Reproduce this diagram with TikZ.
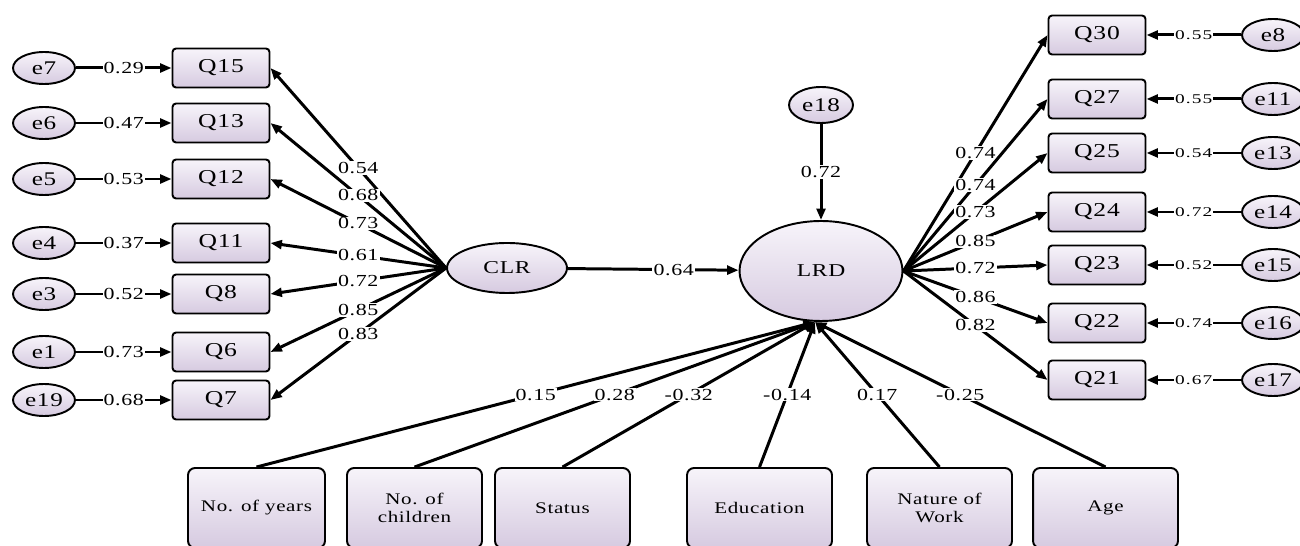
\documentclass[tikz,border=0pt]{standalone}
\usepackage{fontspec}
\setmainfont{Liberation Serif}[FakeStretch=1.3,LetterSpace=4]
\newfontfamily\smallfont{Liberation Serif}[FakeStretch=1.45,LetterSpace=8]
\usetikzlibrary{arrows.meta,shapes.geometric}
\definecolor{lavtop}{RGB}{247,244,250}
\definecolor{lavbot}{RGB}{214,202,224}
\tikzset{
  shade/.style={top color=lavtop,bottom color=lavbot,draw=black,line width=1.1pt},
  errnode/.style={shade,ellipse,minimum width=1.24cm,minimum height=0.64cm,inner sep=0pt,font=\fontsize{11}{12}\selectfont},
  obsbox/.style={shade,rectangle,rounded corners=2pt,minimum width=1.94cm,minimum height=0.78cm,inner sep=0pt,font=\fontsize{11.2}{12}\selectfont},
  covbox/.style={shade,rectangle,rounded corners=4pt,minimum height=1.6cm,inner sep=0pt,align=center,font=\fontsize{9.2}{10}\selectfont},
  latent/.style={shade,ellipse,inner sep=0pt,font=\fontsize{10.3}{11}\selectfont},
  conn/.style={line width=1.7pt,-{Triangle[length=6.5pt,width=5pt]}},
  lab/.style={fill=white,inner sep=0.6pt,font=\fontsize{9.6}{10}\selectfont},
  slab/.style={fill=white,inner sep=0.6pt,font=\smallfont\fontsize{7.6}{8}\selectfont},
}
\begin{document}
\begin{tikzpicture}[x=0.02cm,y=-0.02cm]
\useasboundingbox (0,0) rectangle (1300,546);
% latent variables
\node[latent,minimum width=2.4cm,minimum height=1.0cm] (CLR) at (507,268) {CLR};
\node[latent,minimum width=3.26cm,minimum height=2.0cm] (LRD) at (821,271) {LRD};
\node[errnode,minimum width=1.28cm,minimum height=0.72cm] (e18) at (821,105) {e18};
\coordinate (lrdb) at (815,322);
% left indicators
\foreach \e/\q/\y/\w/\l in {e7/Q15/68/0.29/0.54, e6/Q13/123/0.47/0.68, e5/Q12/179/0.53/0.73, e4/Q11/243/0.37/0.61, e3/Q8/294/0.52/0.72, e1/Q6/352/0.73/0.85, e19/Q7/400/0.68/0.83}{
  \node[errnode] (\e) at (44,\y) {\e};
  \node[obsbox] (\q) at (221,\y) {\q};
  \draw[conn] (\e) -- node[lab]{\w} (\q);
  \draw[conn] (CLR.west) -- node[lab]{\l} (\q.east);
}
% right indicators
\foreach \e/\q/\y/\w/\l in {e8/Q30/35/0.55/0.74, e11/Q27/99/0.55/0.74, e13/Q25/153/0.54/0.73, e14/Q24/212/0.72/0.85, e15/Q23/265/0.52/0.72, e16/Q22/323/0.74/0.86, e17/Q21/380/0.67/0.82}{
  \node[errnode] (\e) at (1273,\y) {\e};
  \node[obsbox] (\q) at (1097,\y) {\q};
  \draw[conn] (\e) -- node[slab]{\w} (\q);
  \draw[conn] (LRD.east) -- node[lab]{\l} (\q.west);
}
% structural paths
\draw[conn] (CLR) -- node[lab,pos=0.62]{0.64} (LRD);
\draw[conn] (e18) -- node[lab]{0.72} (LRD);
% covariates
\node[covbox,minimum width=2.74cm] (yrs) at (256.5,508) {No. of years};
\node[covbox,minimum width=2.7cm] (chi) at (414.5,508) {No. of\\children};
\node[covbox,minimum width=2.7cm] (sta) at (562.5,508) {Status};
\node[covbox,minimum width=2.9cm] (edu) at (759.5,508) {Education};
\node[covbox,minimum width=2.9cm] (nat) at (939.5,508) {Nature of\\Work};
\node[covbox,minimum width=2.9cm] (age) at (1105.5,508) {Age};
\foreach \b/\l in {yrs/0.15, chi/0.28, sta/-0.32, edu/-0.14, nat/0.17, age/-0.25}{
  \draw[conn] (\b.north) -- node[lab]{\l} (lrdb);
}
\end{tikzpicture}
\end{document}
